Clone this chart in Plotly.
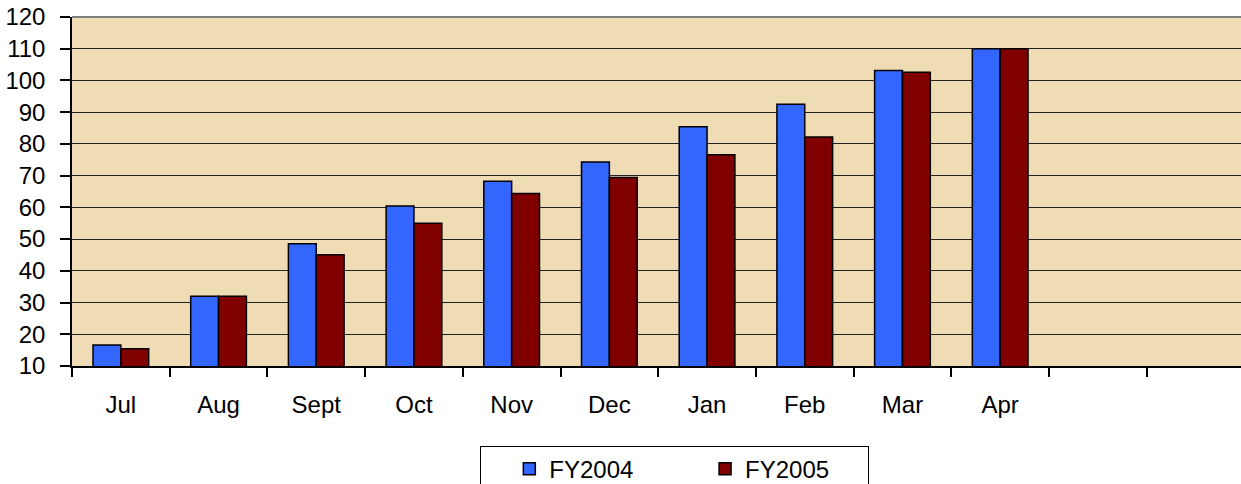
import plotly.graph_objects as go

months = ["Jul", "Aug", "Sept", "Oct", "Nov", "Dec", "Jan", "Feb", "Mar", "Apr", " ", "  "]
fy2004 = [16.6, 32.0, 48.5, 60.4, 68.2, 74.3, 85.4, 92.5, 103.1, 110.0, None, None]
fy2005 = [15.4, 32.0, 45.1, 55.0, 64.4, 69.4, 76.6, 82.2, 102.6, 110.0, None, None]
y_ticks = list(range(10, 121, 10))

FONT = "Liberation Sans, Arial, sans-serif"
NB = "\u00a0"

fig = go.Figure()
fig.add_trace(go.Bar(x=months, y=fy2004, name="FY2004" + NB * 10,
                     marker=dict(color="#3366FF", line=dict(color="#000000", width=1.5))))
fig.add_trace(go.Bar(x=months, y=fy2005, name="FY2005" + NB * 5,
                     marker=dict(color="#800000", line=dict(color="#000000", width=1.5))))

# figure is slightly taller than the window so the legend box runs off the bottom edge
fig.update_layout(
    width=1241, height=494,
    margin=dict(l=72, r=0, t=17, b=128),
    paper_bgcolor="white",
    plot_bgcolor="#EFDCB5",
    barmode="group", bargap=0.43, bargroupgap=0,
    font=dict(family=FONT, size=24, color="black"),
    showlegend=True,
    legend=dict(orientation="h", x=0.349, xanchor="left", y=-0.228, yanchor="top",
                bordercolor="black", borderwidth=1, bgcolor="white",
                font=dict(size=24), traceorder="normal",
                title=dict(text=NB * 3, side="left", font=dict(size=22))),
)
fig.update_xaxes(
    type="category", categoryorder="array", categoryarray=months,
    range=[-0.5, 11.465], automargin=False,
    showline=True, linecolor="black", linewidth=1.5,
    ticks="outside", ticklen=9, tickcolor="black", tickwidth=1.5,
    tickson="boundaries", showgrid=False,
    ticklabelstandoff=16,
)
fig.update_yaxes(
    range=[10, 120], tickvals=y_ticks, automargin=False,
    showline=True, linecolor="black", linewidth=1.5,
    ticks="outside", ticklen=10, tickcolor="black", tickwidth=1.5,
    showgrid=True, gridcolor="#222222", gridwidth=1,
    zeroline=False, ticklabelstandoff=10,
)
fig.add_shape(type="line", xref="paper", yref="paper", x0=0, x1=1, y0=1, y1=1,
              line=dict(color="#808080", width=2))

fig.write_html(
    "out.html",
    config={"displayModeBar": False, "responsive": False},
    post_script="document.body.style.margin='0';document.body.style.overflow='hidden';",
)
